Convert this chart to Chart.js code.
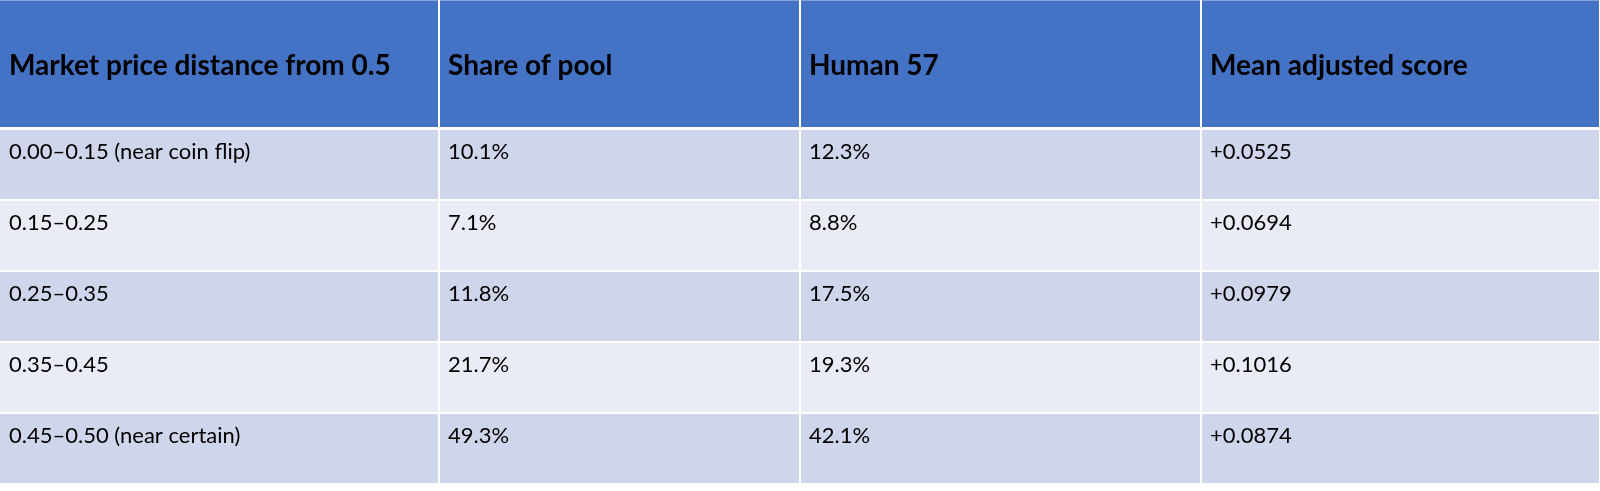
<!DOCTYPE html>
<html>
<head>
<meta charset="utf-8">
<script src="https://cdn.jsdelivr.net/npm/chart.js@4.4.1/dist/chart.umd.min.js"></script>
<style>
  body { margin: 0; background: #fff; }
  canvas { display: block; }
</style>
</head>
<body>
<canvas id="tbl" width="1600" height="491"></canvas>
<script>
// table contents
const headers = ['Market price distance from 0.5', 'Share of pool', 'Human 57', 'Mean adjusted score'];
const buckets = ['0.00–0.15 (near coin flip)', '0.15–0.25', '0.25–0.35', '0.35–0.45', '0.45–0.50 (near certain)'];
const sharePool = [10.1, 7.1, 11.8, 21.7, 49.3];   // %
const human57 = [12.3, 8.8, 17.5, 19.3, 42.1];     // %
const meanScore = [0.0525, 0.0694, 0.0979, 0.1016, 0.0874];

// grid layout, in scale units (the scales map 1 unit to 1 px)
const colEdges = [0, 439, 800, 1201, 1600];
const rowEdges = [0, 129, 200, 271, 342, 413, 484];

const headerColor = '#4472C4';
const rowColors = ['#CFD5EA', '#E9EBF5'];

function cellText(r, c) {
  if (c === 0) return buckets[r];
  if (c === 1) return sharePool[r].toFixed(1) + '%';
  if (c === 2) return human57[r].toFixed(1) + '%';
  return '+' + meanScore[r].toFixed(4);
}

const tablePlugin = {
  id: 'tablePlugin',
  beforeDatasetsDraw(chart) {
    const ctx = chart.ctx;
    const xs = chart.scales.x, ys = chart.scales.y;
    const px = v => xs.getPixelForValue(v);
    const py = v => ys.getPixelForValue(v);

    ctx.save();
    for (let r = 0; r < rowEdges.length - 1; r++) {
      const isHead = r === 0;
      const top = py(rowEdges[r]) + (isHead ? 0 : 1);
      const bottom = py(rowEdges[r + 1]) - (isHead ? 2 : 1);
      for (let c = 0; c < colEdges.length - 1; c++) {
        const left = px(colEdges[c]) + (c === 0 ? 0 : 1);
        const right = px(colEdges[c + 1]) - 1;
        ctx.fillStyle = isHead ? headerColor : rowColors[(r - 1) % 2];
        ctx.fillRect(left, top, right - left, bottom - top);

        ctx.fillStyle = '#000';
        ctx.textAlign = 'left';
        ctx.textBaseline = 'alphabetic';
        if (isHead) {
          ctx.font = 'bold 28px Lato';
          ctx.fillText(headers[c], px(colEdges[c]) + 9, py(75));
        } else {
          ctx.font = '22px Lato';
          ctx.fillText(cellText(r - 1, c), px(colEdges[c]) + 9, top + 29);
        }
      }
    }
    // faint top edge line
    ctx.fillStyle = 'rgba(255,255,255,0.35)';
    ctx.fillRect(0, 0, chart.width, 1);
    ctx.restore();
  }
};

new Chart(document.getElementById('tbl'), {
  type: 'scatter',
  data: { datasets: [] },
  options: {
    responsive: false,
    animation: false,
    devicePixelRatio: 1,
    layout: { padding: 0 },
    plugins: { legend: { display: false }, tooltip: { enabled: false } },
    scales: {
      x: { type: 'linear', min: 0, max: 1600, display: false },
      y: { type: 'linear', min: 0, max: 491, reverse: true, display: false }
    }
  },
  plugins: [tablePlugin]
});
</script>
</body>
</html>
